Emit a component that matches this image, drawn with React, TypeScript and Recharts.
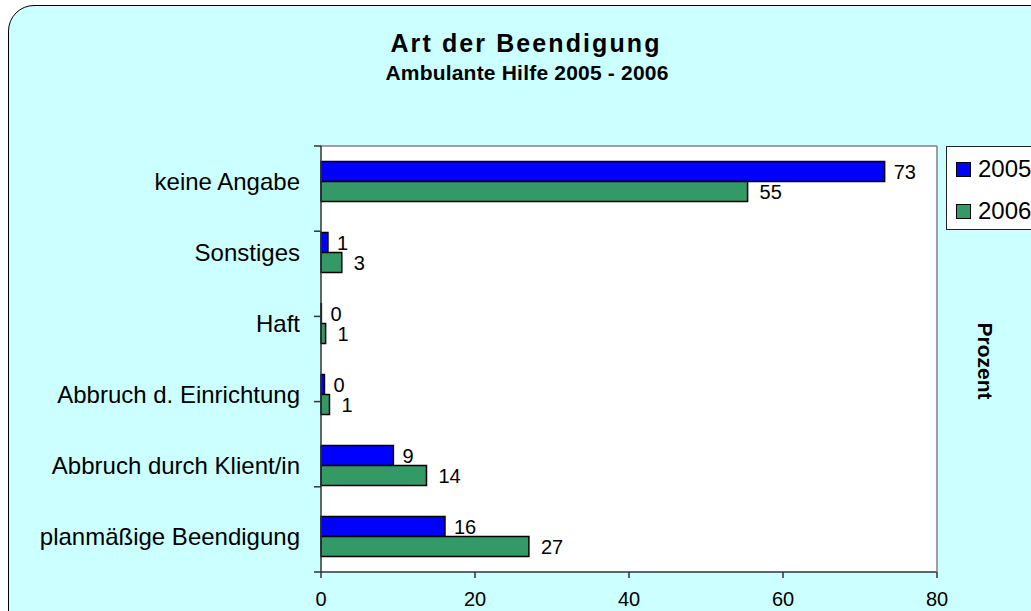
import React from 'react';
import { BarChart, Bar, XAxis, YAxis, CartesianGrid, Legend, LabelList } from 'recharts';

const categories = [
  'keine Angabe',
  'Sonstiges',
  'Haft',
  'Abbruch d. Einrichtung',
  'Abbruch durch Klient/in',
  'planmäßige Beendigung',
];
const values2005 = [73.2, 0.9, 0.05, 0.45, 9.4, 16.1];
const values2006 = [55.4, 2.7, 0.6, 1.1, 13.7, 27.0];
const xTicks = [0, 20, 40, 60, 80];
const edgeTicks = [0, 1, 2, 3, 4, 5, 6];

const FONT = '"Liberation Sans", Arial, sans-serif';
const BLUE = '#0000FF';
const GREEN = '#339966';

const data = categories.map((name, i) => ({ name, y2005: values2005[i], y2006: values2006[i] }));

const roundLabel = (v: any) => String(Math.round(Number(v)));

const NoTick = () => <g />;

const LegendBox = () => (
  <div
    style={{
      position: 'relative',
      width: 120,
      height: 82,
      background: '#fff',
      border: '1px solid #222',
      fontFamily: FONT,
      fontSize: 24,
      color: '#000',
    }}
  >
    {[
      { label: '2005', color: BLUE, top: 15 },
      { label: '2006', color: GREEN, top: 57 },
    ].map((item) => (
      <div key={item.label}>
        <div
          style={{
            position: 'absolute',
            left: 9,
            top: item.top,
            width: 13,
            height: 13,
            background: item.color,
            border: '1px solid #000',
          }}
        />
        <div style={{ position: 'absolute', left: 31, top: item.top - 7, lineHeight: '28px' }}>{item.label}</div>
      </div>
    ))}
  </div>
);

export default function App() {
  return (
    <div style={{ position: 'absolute', left: 0, top: 0, width: 1031, height: 611, overflow: 'hidden', background: '#fff' }}>
      <div
        style={{
          position: 'absolute',
          left: 8,
          top: 5,
          width: 1200,
          height: 900,
          background: '#CCFFFF',
          border: '1.5px solid #000',
          borderRadius: 26,
        }}
      />
      <div style={{ position: 'absolute', left: 0, top: 0 }}>
        <BarChart
          width={1031}
          height={611}
          data={data}
          layout="vertical"
          margin={{ top: 145, right: 93, bottom: 0, left: 0 }}
          barCategoryGap="22%"
          barGap={0}
        >
          <CartesianGrid horizontal={false} vertical={false} fill="#fff" fillOpacity={1} />
          <XAxis
            type="number"
            domain={[0, 80]}
            ticks={xTicks}
            height={39}
            tickSize={6}
            tickMargin={14}
            axisLine={{ stroke: '#333', strokeWidth: 1.5 }}
            tickLine={{ stroke: '#333', strokeWidth: 1.5 }}
            tick={{ fontSize: 20, fill: '#000', fontFamily: FONT }}
          />
          <XAxis
            xAxisId="top"
            orientation="top"
            type="number"
            domain={[0, 80]}
            height={1}
            tick={false}
            tickLine={false}
            axisLine={{ stroke: '#808080', strokeWidth: 1.5 }}
          />
          <YAxis
            yAxisId={0}
            type="number"
            domain={[0, 6]}
            ticks={edgeTicks}
            interval={0}
            width={1}
            tick={<NoTick />}
            tickSize={7}
            axisLine={{ stroke: '#333', strokeWidth: 1.5 }}
            tickLine={{ stroke: '#333', strokeWidth: 1.5 }}
          />
          <YAxis
            yAxisId="cat"
            type="category"
            dataKey="name"
            width={320}
            axisLine={false}
            tickLine={false}
            tickSize={7}
            tickMargin={13}
            tick={{ fontSize: 24, fill: '#000', fontFamily: FONT }}
          />
          <YAxis
            yAxisId="right"
            orientation="right"
            type="number"
            domain={[0, 6]}
            width={1}
            tick={false}
            tickLine={false}
            axisLine={{ stroke: '#808080', strokeWidth: 1.5 }}
          />
          <Bar dataKey="y2005" name="2005" yAxisId="cat" fill={BLUE} stroke="#000" strokeWidth={1.5} isAnimationActive={false}>
            <LabelList
              dataKey="y2005"
              position="right"
              offset={9}
              formatter={roundLabel}
              style={{ fontSize: 20, fill: '#000', fontFamily: FONT }}
            />
          </Bar>
          <Bar dataKey="y2006" name="2006" yAxisId="cat" fill={GREEN} stroke="#000" strokeWidth={1.5} isAnimationActive={false}>
            <LabelList
              dataKey="y2006"
              position="right"
              offset={12}
              formatter={roundLabel}
              style={{ fontSize: 20, fill: '#000', fontFamily: FONT }}
            />
          </Bar>
          <Legend
            layout="horizontal"
            verticalAlign="middle"
            align="center"
            content={<LegendBox />}
            wrapperStyle={{ top: 146, left: 946, width: 120, height: 84 }}
          />
          <text x={526} y={52} textAnchor="middle" fontFamily={FONT} fontSize={25} fontWeight="bold" letterSpacing={2.1} fill="#000">
            Art der Beendigung
          </text>
          <text x={527} y={80} textAnchor="middle" fontFamily={FONT} fontSize={21} fontWeight="bold" letterSpacing={0.2} fill="#000">
            Ambulante Hilfe 2005 - 2006
          </text>
          <text
            x={985}
            y={361}
            textAnchor="middle"
            dominantBaseline="central"
            transform="rotate(90 985 361)"
            fontFamily={FONT}
            fontSize={21}
            fontWeight="bold"
            fill="#000"
          >
            Prozent
          </text>
        </BarChart>
      </div>
    </div>
  );
}
